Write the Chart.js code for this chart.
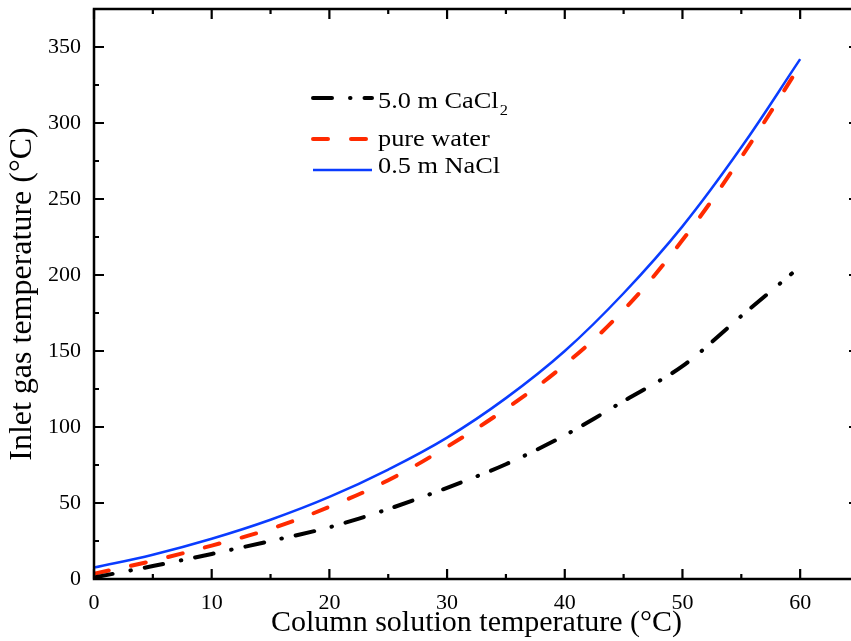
<!DOCTYPE html>
<html><head><meta charset="utf-8">
<script src="https://cdn.jsdelivr.net/npm/chart.js@4.4.0/dist/chart.umd.min.js"></script>
<style>
html,body{margin:0;padding:0;background:#fff;overflow:hidden;width:851px;height:641px}
#wrap{position:absolute;left:0;top:0;width:861px;height:641px}
</style>
</head><body>
<div id="wrap"><canvas id="c" width="861" height="641"></canvas></div>
<script>
// ---- data ----
const xCommon = [0, 5, 10, 15, 20, 25, 30, 35, 40, 45, 50, 55, 60];
const cacl2X  = [0, 5, 10, 15, 20, 25, 30, 35, 40, 45, 50, 55, 59.3];
const cacl2Y  = [1, 8.5, 16.5, 25, 34, 46, 60, 75.5, 94.5, 117, 140, 173, 201];
const waterY  = [3.5, 12, 22, 33, 47.5, 65, 87, 112, 141, 177, 223, 277.5, 338];
const naclY   = [7.5, 16, 26.5, 39, 54, 72, 93, 119, 150, 188, 232, 284, 342];
const seriesNames = ['5.0 m CaCl', 'pure water', '0.5 m NaCl'];
const seriesSubs  = ['2', '', ''];
const xTitle = 'Column solution temperature (°C)';
const yTitle = 'Inlet gas temperature (°C)';
const xMin = 0, xMax = 65, xStep = 10;
const yMin = 0, yMax = 375, yStep = 50;

const pts = (xs, ys) => xs.map((x, i) => ({x: x, y: ys[i]}));
const FONT = "'Liberation Serif','Times New Roman',serif";

const frameTicks = {
  id: 'frameTicks',
  afterDraw(chart) {
    const {ctx, chartArea: a, scales: {x, y}} = chart;
    ctx.save();
    ctx.strokeStyle = '#000';
    ctx.lineWidth = 2.5;
    ctx.setLineDash([]);
    ctx.strokeRect(a.left, a.top, a.right - a.left, a.bottom - a.top);
    ctx.lineWidth = 2.2;
    ctx.beginPath();
    for (let v = xMin; v <= xMax + 1e-9; v += xStep / 2) {
      const px = x.getPixelForValue(v);
      const len = (Math.abs(v % xStep) < 1e-9) ? 10 : 5;
      ctx.moveTo(px, a.bottom); ctx.lineTo(px, a.bottom - len);
      ctx.moveTo(px, a.top); ctx.lineTo(px, a.top + len);
    }
    for (let v = yMin; v <= yMax + 1e-9; v += yStep / 2) {
      const py = y.getPixelForValue(v);
      const len = (Math.abs(v % yStep) < 1e-9) ? 10 : 5;
      ctx.moveTo(a.left, py); ctx.lineTo(a.left + len, py);
      ctx.moveTo(a.right, py); ctx.lineTo(a.right - len, py);
    }
    ctx.stroke();
    ctx.restore();
  }
};

const innerLegend = {
  id: 'innerLegend',
  afterDraw(chart) {
    const ctx = chart.ctx;
    const lineY = [98, 139, 170];
    const baseY = [108, 145.5, 173];
    const x0 = 313, x1 = 372, tx = 378;
    chart.data.datasets.forEach((ds, i) => {
      ctx.save();
      ctx.strokeStyle = ds.borderColor;
      ctx.lineWidth = ds.borderWidth;
      ctx.lineCap = ds.borderCapStyle || 'butt';
      ctx.setLineDash(ds.borderDash || []);
      ctx.beginPath();
      ctx.moveTo(x0, lineY[i]); ctx.lineTo(x1, lineY[i]);
      ctx.stroke();
      ctx.restore();
      ctx.save();
      ctx.fillStyle = '#000';
      ctx.textBaseline = 'alphabetic';
      ctx.translate(tx, baseY[i]);
      ctx.scale(1.17, 1);
      ctx.font = '22.5px ' + FONT;
      ctx.fillText(seriesNames[i], 0, 0);
      if (seriesSubs[i]) {
        const w = ctx.measureText(seriesNames[i]).width;
        ctx.font = '14px ' + FONT;
        ctx.fillText(seriesSubs[i], w + 1, 7);
      }
      ctx.restore();
    });
  }
};

const noPad = s => { s.paddingTop = 0; s.paddingBottom = 0; s.paddingLeft = 0; s.paddingRight = 0; };

new Chart(document.getElementById('c'), {
  type: 'line',
  data: {
    datasets: [
      { label: seriesNames[0] + seriesSubs[0], data: pts(cacl2X, cacl2Y), borderColor: '#000000',
        borderWidth: 4, borderDash: [19, 18, 0.5, 14], borderCapStyle: 'round',
        pointRadius: 0, fill: false, tension: 0.3 },
      { label: seriesNames[1], data: pts(xCommon, waterY), borderColor: '#ff2a00',
        borderWidth: 4, borderDash: [15, 23], borderCapStyle: 'round',
        pointRadius: 0, fill: false, tension: 0.4 },
      { label: seriesNames[2], data: pts(xCommon, naclY), borderColor: '#0a3cff',
        borderWidth: 2.5, borderDash: [],
        pointRadius: 0, fill: false, tension: 0.4 }
    ]
  },
  options: {
    responsive: false,
    animation: false,
    devicePixelRatio: 1,
    layout: { padding: { left: 0, top: 9, right: 2, bottom: 0 } },
    plugins: { legend: { display: false }, tooltip: { enabled: false } },
    scales: {
      x: {
        type: 'linear', min: xMin, max: xMax,
        grid: { display: false, drawTicks: false },
        border: { display: false },
        ticks: { stepSize: xStep, color: '#000', padding: 11,
                 font: { family: FONT, size: 22 }, maxRotation: 0,
                 callback: v => (v % xStep === 0 && v <= 60) ? String(v) : '' },
        title: { display: true, text: xTitle, color: '#000',
                 font: { family: FONT, size: 30, lineHeight: 1.2 }, padding: { top: 0, bottom: 0 } },
        afterFit: s => { s.height = 62; noPad(s); }
      },
      y: {
        type: 'linear', min: yMin, max: yMax,
        grid: { display: false, drawTicks: false },
        border: { display: false },
        ticks: { stepSize: yStep, color: '#000', padding: 13,
                 font: { family: FONT, size: 22 },
                 callback: v => (v % yStep === 0 && v <= 350) ? String(v) : '' },
        title: { display: true, text: yTitle, color: '#000',
                 font: { family: FONT, size: 32, lineHeight: 1.2 }, padding: { top: 3, bottom: 0 } },
        afterFit: s => { s.width = 94; noPad(s); }
      }
    }
  },
  plugins: [frameTicks, innerLegend]
});
</script>
</body></html>
